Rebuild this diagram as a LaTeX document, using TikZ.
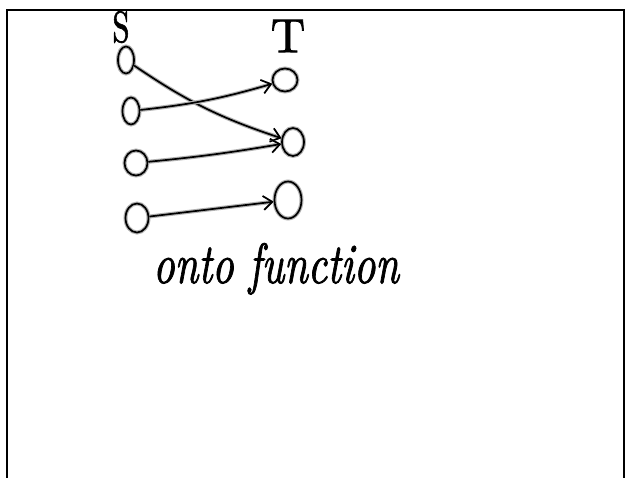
\documentclass[tikz,border=0pt]{standalone}
\usepackage{fontspec}
\newfontfamily\handup{lmroman10-regular.otf}[FakeBold=1.6]
\newfontfamily\handit{lmroman10-italic.otf}[FakeBold=1.6]
\usetikzlibrary{shapes.geometric,arrows.meta}
\begin{document}
\begin{tikzpicture}[x=1pt,y=-1pt,
  ink/.style={draw=black, line width=1.7pt, preaction={draw=gray!60, line width=4pt}},
  dot/.style={ellipse, ink, inner sep=0pt},
  link/.style={ink, -{Straight Barb[length=9pt,width=14pt,line width=1.7pt]}},
  hand/.style={inner sep=0pt, text=black}]
\useasboundingbox (0,0) rectangle (626,477);
\draw[line width=2.8pt] (7,480) -- (7,10) -- (624,10) -- (624,480);
% labels
\node[hand, font=\handup\fontsize{44}{44}\selectfont] (S) at (121,27) {\scalebox{0.7}[1]{S}};
\node[hand, font=\handup\fontsize{48}{48}\selectfont] (T) at (288,36) {T};
% left set
\node[dot, minimum width=16pt, minimum height=27pt] (L1) at (126,60) {};
\node[dot, minimum width=17pt, minimum height=27pt] (L2) at (131,111) {};
\node[dot, minimum width=23pt, minimum height=25pt] (L3) at (136,163) {};
\node[dot, minimum width=23pt, minimum height=29pt] (L4) at (137,218) {};
% right set
\node[dot, minimum width=25pt, minimum height=23pt] (R1) at (285,80) {};
\node[dot, minimum width=22pt, minimum height=28pt] (R2) at (293,142) {};
\node[dot, minimum width=27pt, minimum height=37pt] (R3) at (288,200) {};
% arrows
\draw[link] (L1) to[bend right=8] (R2);
\draw[link] (L2) to[bend right=5] (R1);
\draw[link] (L3) to[bend right=2] (R2);
\draw[link] (L4) to (R3);
% caption
\node[hand, anchor=base west, font=\handit\fontsize{42}{42}\selectfont] (cap) at (153,283) {\scalebox{1}[1.35]{onto function}};
\end{tikzpicture}
\end{document}
